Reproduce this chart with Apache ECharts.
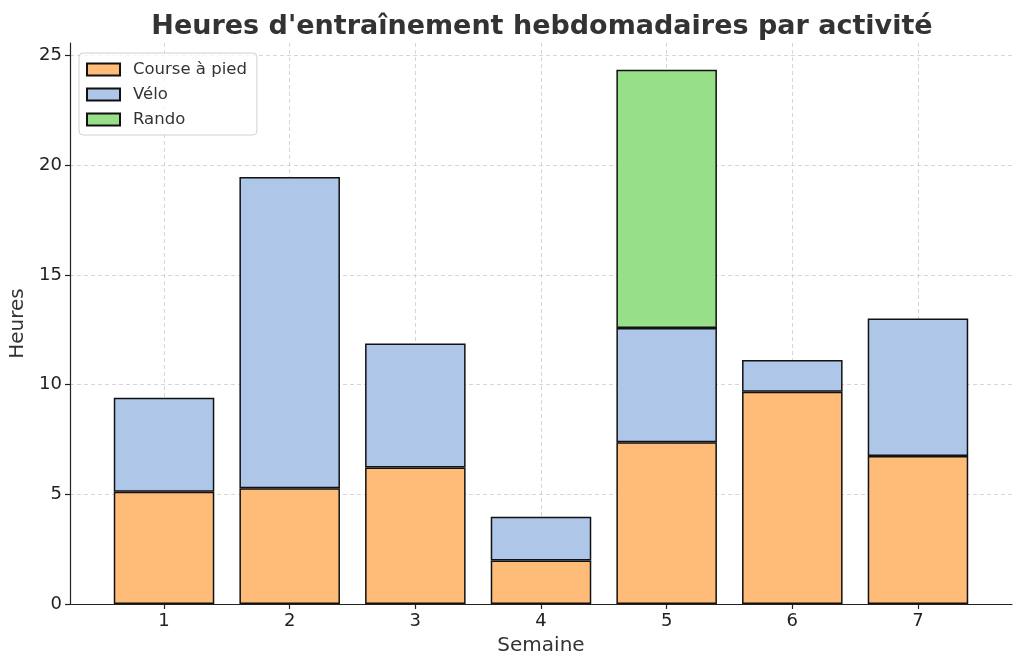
<!DOCTYPE html>
<html>
<head>
<meta charset="utf-8">
<script src="https://cdn.jsdelivr.net/npm/echarts@6/dist/echarts.min.js"></script>
<style>html,body{margin:0;padding:0;background:#fff}#c{width:1023px;height:669px}</style>
</head>
<body>
<div id="c"></div>
<script>
const weeks = ['1', '2', '3', '4', '5', '6', '7'];
const course = [5.12, 5.28, 6.22, 1.98, 7.37, 9.68, 6.75];
const velo = [4.29, 14.19, 5.66, 2.00, 5.21, 1.45, 6.27];
const rando = ['-', '-', '-', '-', 11.78, '-', '-'];
const yTicks = [0, 5, 10, 15, 20, 25];
const seriesNames = ['Course à pied', 'Vélo', 'Rando'];
const colors = ['#ffbb78', '#aec7e8', '#98df8a'];

const font = 'DejaVu Sans';
const chart = echarts.init(document.getElementById('c'), null, {renderer: 'canvas'});

function mk(name, vals, color) {
  return {
    name: name,
    type: 'bar',
    stack: 'total',
    barWidth: '80%',
    xAxisIndex: 1, yAxisIndex: 1,
    data: vals,
    itemStyle: {color: color, borderColor: '#111', borderWidth: 1.5},
    emphasis: {disabled: true}
  };
}

const yMax = 25.58;
chart.setOption({
  animation: false,
  textStyle: {fontFamily: font},
  title: {
    text: "Heures d'entraînement hebdomadaires par activité",
    left: 537, top: 8, textAlign: 'center',
    textStyle: {fontFamily: font, fontSize: 27, fontWeight: 'bold', color: '#333'}
  },
  legend: {
    orient: 'vertical',
    left: 79, top: 53,
    padding: [8, 10, 7, 7],
    itemWidth: 33, itemHeight: 12, itemGap: 8,
    icon: 'rect',
    borderColor: '#d0d0d0', borderWidth: 1, borderRadius: 4,
    backgroundColor: 'rgba(255,255,255,0.8)',
    textStyle: {fontFamily: font, fontSize: 16.5, color: '#333', padding: [0,0,0,8]},
    data: seriesNames
  },
  grid: [
    {left: 70, right: 11, top: 43, bottom: 65, containLabel: false},
    {left: 101.2, right: 42.2, top: 43, bottom: 65, containLabel: false}
  ],
  xAxis: [
    {
      gridIndex: 0, type: 'value', min: 0, max: 1,
      axisLine: {show: true, lineStyle: {color: '#222', width: 1.2}},
      axisTick: {show: false}, axisLabel: {show: false}, splitLine: {show: false}
    },
    {
      gridIndex: 1, type: 'category', data: weeks, boundaryGap: true,
      name: 'Semaine', nameLocation: 'middle', nameGap: 32,
      nameTextStyle: {fontFamily: font, fontSize: 20, color: '#333'},
      axisLine: {show: false},
      axisTick: {show: true, alignWithLabel: true, length: 5, lineStyle: {color: '#222', width: 1.2}},
      axisLabel: {fontFamily: font, fontSize: 18, color: '#222', margin: 8},
      splitLine: {show: true, alignWithLabel: true, lineStyle: {color: '#cccccc', type: [4, 3], width: 0.8}}
    }
  ],
  yAxis: [
    {
      gridIndex: 0, type: 'value', min: 0, max: yMax,
      name: 'Heures', nameLocation: 'middle', nameGap: 34,
      nameTextStyle: {fontFamily: font, fontSize: 20, color: '#333'},
      axisLine: {show: true, lineStyle: {color: '#222', width: 1.2}},
      axisTick: {show: true, length: 5, customValues: yTicks, lineStyle: {color: '#222', width: 1.2}},
      axisLabel: {customValues: yTicks, fontFamily: font, fontSize: 18, color: '#222', margin: 8},
      splitLine: {show: true, lineStyle: {color: '#cccccc', type: [4, 3], width: 0.8}}
    },
    {
      gridIndex: 1, type: 'value', min: 0, max: yMax, show: false
    }
  ],
  series: [
    mk(seriesNames[0], course, colors[0]),
    mk(seriesNames[1], velo, colors[1]),
    mk(seriesNames[2], rando, colors[2])
  ]
});
</script>
</body>
</html>
